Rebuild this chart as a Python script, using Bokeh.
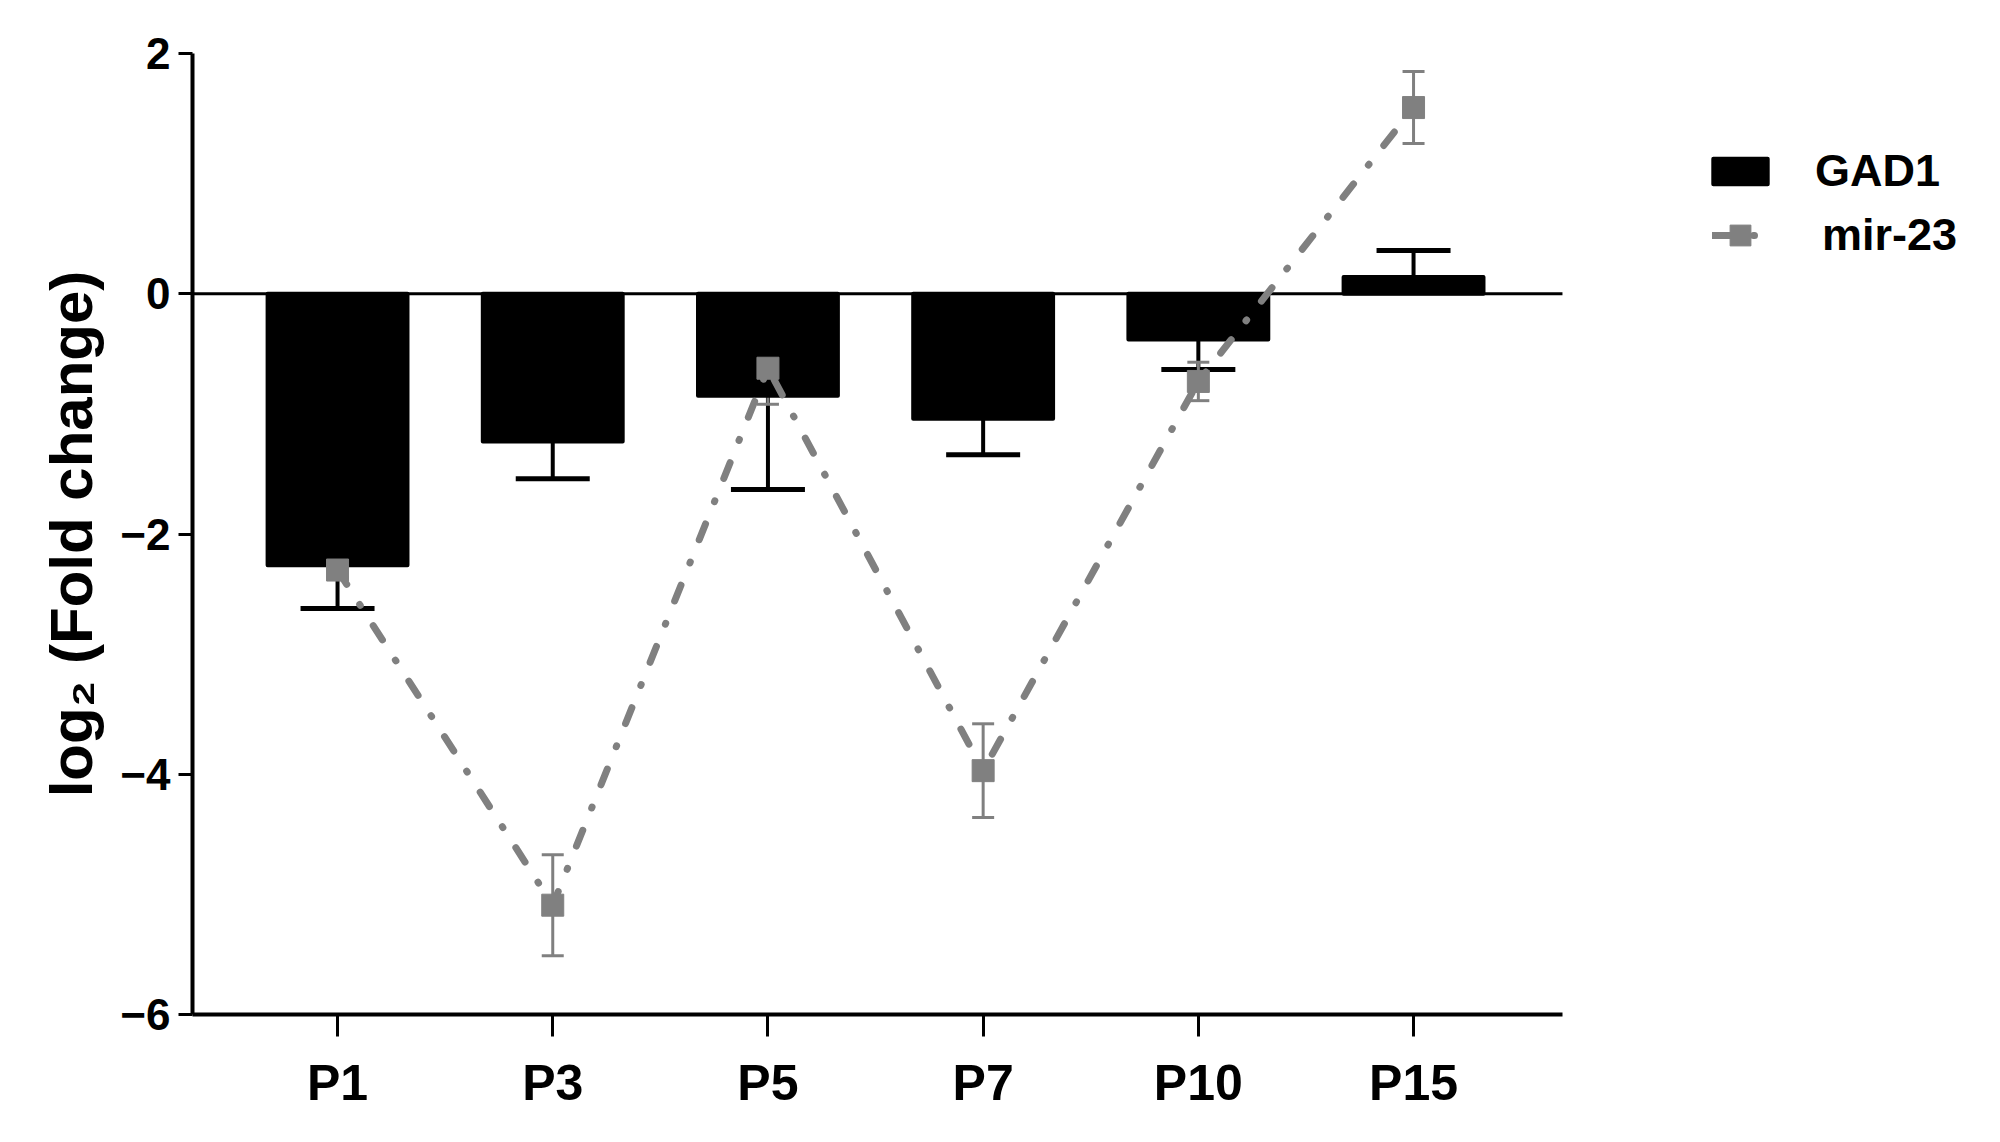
from bokeh.plotting import figure
from bokeh.models import (Range1d, FixedTicker, Whisker, TeeHead,
                          ColumnDataSource, Legend, LegendItem)
from bokeh.embed import file_html
from bokeh.resources import INLINE

# ---------------- data ----------------
categories = ["P1", "P3", "P5", "P7", "P10", "P15"]
gad1 = [-2.26, -1.23, -0.85, -1.04, -0.38, 0.14]
gad1_err = [0.36, 0.31, 0.78, 0.30, 0.25, 0.22]
mir23 = [-2.30, -5.09, -0.62, -3.97, -0.73, 1.55]
mir23_err = [0.06, 0.42, 0.30, 0.39, 0.16, 0.30]
y_ticks = [-6, -4, -2, 0, 2]
y_tick_labels = ["\u22126", "\u22124", "\u22122", "0", "2"]
series_names = ["GAD1", "mir-23"]

FONT = "Liberation Sans"
GRAY = "#808080"

xpos = list(range(len(categories)))
x_lo, x_hi = -0.674, len(categories) - 1 + 0.692   # extent of the drawn x axis
frame_w = 1984 - 192 - 10
x_end = x_lo + frame_w / 215.2                       # frame continues right for the legend

p = figure(width=1984, height=1126,
           x_range=Range1d(x_lo, x_end), y_range=Range1d(-6, 2),
           output_backend="svg", toolbar_location=None,
           min_border_left=192, min_border_right=10, min_border_top=53, min_border_bottom=112)
p.outline_line_color = None
p.xgrid.grid_line_color = None
p.ygrid.grid_line_color = None

# zero line (limited to axis extent)
p.segment(x0=[x_lo], x1=[x_hi], y0=[0], y1=[0], line_color="black", line_width=3)

# bars
bar_src = ColumnDataSource(dict(x=xpos, top=gad1))
bars = p.vbar(x="x", top="top", bottom=0, width=0.65, source=bar_src,
              fill_color="black", line_color="black", line_width=4, line_join="round")

# bar error bars (one direction, away from zero)
neg = [i for i, v in enumerate(gad1) if v < 0]
pos = [i for i, v in enumerate(gad1) if v >= 0]
neg_src = ColumnDataSource(dict(x=[xpos[i] for i in neg],
                                lo=[gad1[i] - gad1_err[i] for i in neg],
                                hi=[gad1[i] for i in neg]))
pos_src = ColumnDataSource(dict(x=[xpos[i] for i in pos],
                                lo=[gad1[i] for i in pos],
                                hi=[gad1[i] + gad1_err[i] for i in pos]))
p.add_layout(Whisker(source=neg_src, base="x", lower="lo", upper="hi",
                     line_color="black", line_width=4,
                     lower_head=TeeHead(size=74, line_color="black", line_width=5),
                     upper_head=None))
p.add_layout(Whisker(source=pos_src, base="x", lower="lo", upper="hi",
                     line_color="black", line_width=4,
                     upper_head=TeeHead(size=74, line_color="black", line_width=5),
                     lower_head=None))

# mir-23 line
mir_src = ColumnDataSource(dict(x=xpos, y=mir23,
                                lo=[m - e for m, e in zip(mir23, mir23_err)],
                                hi=[m + e for m, e in zip(mir23, mir23_err)]))
line = p.line(x="x", y="y", source=mir_src, line_color=GRAY, line_width=7,
              line_dash="17 24 1 24", line_cap="round")
p.add_layout(Whisker(source=mir_src, base="x", lower="lo", upper="hi",
                     line_color=GRAY, line_width=3,
                     upper_head=TeeHead(size=22, line_color=GRAY, line_width=3),
                     lower_head=TeeHead(size=22, line_color=GRAY, line_width=3)))
pts = p.scatter(x="x", y="y", source=mir_src, marker="square", size=22,
                fill_color=GRAY, line_color=GRAY)

# axes
p.xaxis.ticker = FixedTicker(ticks=xpos)
p.xaxis.major_label_overrides = {i: c for i, c in zip(xpos, categories)}
p.xaxis.bounds = (x_lo, x_hi)
p.yaxis.ticker = FixedTicker(ticks=y_ticks)
p.yaxis.major_label_overrides = {t: l for t, l in zip(y_ticks, y_tick_labels)}
for ax in (p.xaxis[0], p.yaxis[0]):
    ax.axis_line_color = "black"
    ax.axis_line_width = 4
    ax.major_tick_line_color = "black"
    ax.major_tick_line_width = 3
    ax.major_tick_in = 0
    ax.minor_tick_line_color = None
    ax.major_label_text_font = FONT
    ax.major_label_text_font_style = "bold"
    ax.major_label_text_color = "black"
p.xaxis.major_tick_out = 22
p.xaxis.major_label_text_font_size = "50px"
p.xaxis.major_label_standoff = 18
p.yaxis.major_tick_out = 14
p.yaxis.major_label_text_font_size = "44px"
p.yaxis.major_label_standoff = 8
p.yaxis.axis_label = "log\u2082 (Fold change)"
p.yaxis.axis_label_text_font = FONT
p.yaxis.axis_label_text_font_style = "bold"
p.yaxis.axis_label_text_font_size = "60px"
p.yaxis.axis_label_text_color = "black"
p.yaxis.axis_label_standoff = 12

# legends (two, so that each glyph can be sized separately)
leg1 = Legend(items=[LegendItem(label=series_names[0], renderers=[bars])],
              location=(1514, 815), glyph_width=68, glyph_height=32,
              label_height=56, label_standoff=41, padding=0, margin=0,
              border_line_color=None, background_fill_alpha=0,
              label_text_font=FONT, label_text_font_style="bold",
              label_text_font_size="45px", label_text_color="black")
leg2 = Legend(items=[LegendItem(label=series_names[1], renderers=[line, pts])],
              location=(1520, 751), glyph_width=56, glyph_height=52,
              label_height=56, label_standoff=54, padding=0, margin=0,
              border_line_color=None, background_fill_alpha=0,
              label_text_font=FONT, label_text_font_style="bold",
              label_text_font_size="45px", label_text_color="black")
p.add_layout(leg1, "center")
p.add_layout(leg2, "center")

open("out.html", "w").write(file_html(p, INLINE))
